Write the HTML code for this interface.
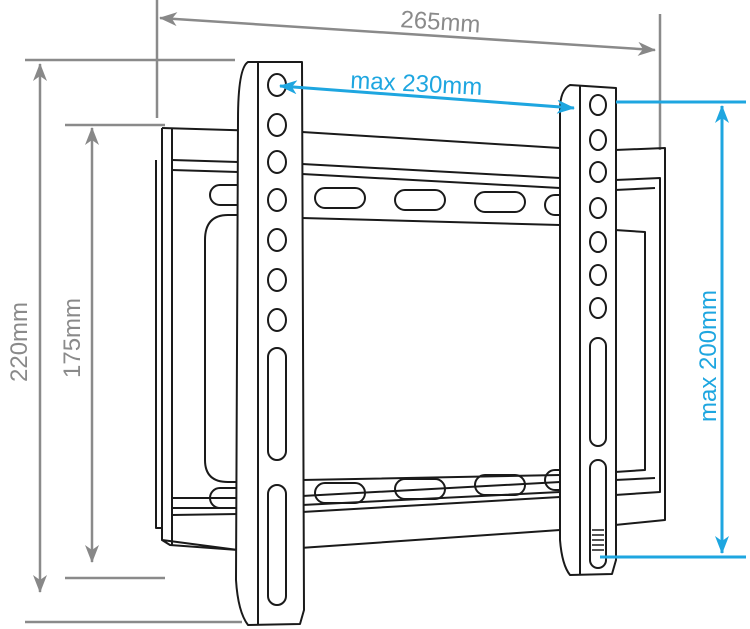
<!DOCTYPE html>
<html><head><style>body{margin:0;background:#fff}svg{display:block}</style></head><body>
<svg width="750" height="629" viewBox="0 0 750 629" xmlns="http://www.w3.org/2000/svg" font-family="Liberation Sans, sans-serif">
<defs>
<marker id="ag" markerWidth="18" markerHeight="14" refX="17" refY="7" orient="auto-start-reverse" markerUnits="userSpaceOnUse"><path d="M0,0 L18,7 L0,14 L5,7z" fill="#888"/></marker>
<marker id="ab" markerWidth="18" markerHeight="14" refX="17" refY="7" orient="auto-start-reverse" markerUnits="userSpaceOnUse"><path d="M0,0 L18,7 L0,14 L5,7z" fill="#1ea6e0"/></marker>
</defs>
<g stroke="#8a8a8a" stroke-width="2.5" fill="none">
<line x1="157" y1="0" x2="157" y2="118"/><line x1="660" y1="14" x2="660" y2="150"/>
<path d="M160,18 L655,50" marker-start="url(#ag)" marker-end="url(#ag)"/>
<line x1="25" y1="60" x2="235" y2="60"/><line x1="25" y1="622" x2="242" y2="622"/>
<line x1="40" y1="64" x2="40" y2="592" marker-start="url(#ag)" marker-end="url(#ag)"/>
<line x1="65" y1="125" x2="165" y2="125"/><line x1="65" y1="578" x2="165" y2="578"/>
<line x1="92" y1="128" x2="92" y2="562" marker-start="url(#ag)" marker-end="url(#ag)"/>
</g>
<g fill="#8a8a8a" font-size="24">
<text x="400" y="27" transform="rotate(4 400 27)">265mm</text>
<text transform="translate(27 382) rotate(-90)">220mm</text>
<text transform="translate(80 378) rotate(-90)">175mm</text>
</g>
<g stroke="#1a1a1a" stroke-width="2" fill="none" stroke-linejoin="round">
<path d="M162,128 L300,132 M302,132 L560,148 M615,150 L665,148 L665,520 L615,525 M560,530 L300,548 M238,550 L170,545 L162,540 Z"/>
<path d="M162,128 L162,540"/><path d="M172,128 L172,545"/>
<path d="M156,160 L156,528 L162,528"/>
<path d="M172,160 L238,162 M302,164 L560,178 M615,180 L660,178 L660,492 L615,495 M560,497 L302,512 M238,514 L172,515"/>
<path d="M172,170 L238,172 M302,174 L560,188 M615,190 L655,188"/>
<path d="M172,498 L238,498 M302,496 L560,482 M615,480 L655,478"/>
<path d="M172,508 L238,508 M302,505 L560,492"/>
<path d="M238,215 L228,215 Q205,215 205,240 L205,460 Q205,482 228,482 L238,482"/>
<path d="M302,218 L560,225 M615,230 L645,232 L645,470 L615,472 M560,475 L302,480"/>
<g>
<rect x="210" y="185" width="40" height="20" rx="10"/><rect x="315" y="188" width="50" height="20" rx="10"/><rect x="395" y="190" width="50" height="20" rx="10"/><rect x="475" y="192" width="50" height="20" rx="10"/>
<rect x="210" y="488" width="40" height="20" rx="10"/><rect x="315" y="483" width="50" height="20" rx="10"/><rect x="395" y="479" width="50" height="20" rx="10"/><rect x="475" y="475" width="50" height="20" rx="10"/>
<rect x="545" y="195" width="30" height="20" rx="10"/><rect x="545" y="470" width="30" height="20" rx="10"/>
</g>
<path d="M248,62 Q238,68 238,120 L236,580 Q238,612 248,625 L300,624 L304,610 L302,62 Z" fill="#fff"/>
<path d="M258,62 L258,624"/>
<g fill="#fff">
<ellipse cx="277" cy="85" rx="9" ry="11"/><ellipse cx="277" cy="125" rx="9" ry="11"/><ellipse cx="277" cy="162" rx="9" ry="11"/><ellipse cx="277" cy="200" rx="9" ry="11"/><ellipse cx="277" cy="240" rx="9" ry="11"/><ellipse cx="277" cy="280" rx="9" ry="11"/><ellipse cx="277" cy="320" rx="9" ry="11"/>
<rect x="268" y="348" width="18" height="112" rx="9"/><rect x="268" y="485" width="18" height="120" rx="9"/>
</g>
<path d="M570,85 Q560,90 560,110 L560,540 Q562,565 570,575 L612,574 L616,560 L616,88 Z" fill="#fff"/>
<path d="M580,85 L580,575"/>
<g fill="#fff">
<ellipse cx="598" cy="105" rx="8" ry="10"/><ellipse cx="598" cy="140" rx="8" ry="10"/><ellipse cx="598" cy="172" rx="8" ry="10"/><ellipse cx="598" cy="208" rx="8" ry="10"/><ellipse cx="598" cy="242" rx="8" ry="10"/><ellipse cx="598" cy="275" rx="8" ry="10"/><ellipse cx="598" cy="308" rx="8" ry="10"/>
<rect x="590" y="338" width="16" height="108" rx="8"/><rect x="590" y="460" width="16" height="108" rx="8"/>
</g>
<path d="M592,530 L604,530 M592,535 L604,535 M592,540 L604,540 M592,545 L604,545 M592,550 L604,550" stroke-width="1.5"/>
</g>
<g stroke="#1ea6e0" stroke-width="3" fill="none">
<line x1="280" y1="86" x2="574" y2="108" marker-start="url(#ab)" marker-end="url(#ab)"/>
<line x1="616" y1="102" x2="746" y2="102"/><line x1="600" y1="557" x2="746" y2="557"/>
<line x1="722" y1="106" x2="722" y2="553" marker-start="url(#ab)" marker-end="url(#ab)"/>
</g>
<g fill="#1ea6e0" font-size="24">
<text x="350" y="88" transform="rotate(3 350 88)">max 230mm</text>
<text transform="translate(716 422) rotate(-90)">max 200mm</text>
</g>
</svg>
</body></html>
